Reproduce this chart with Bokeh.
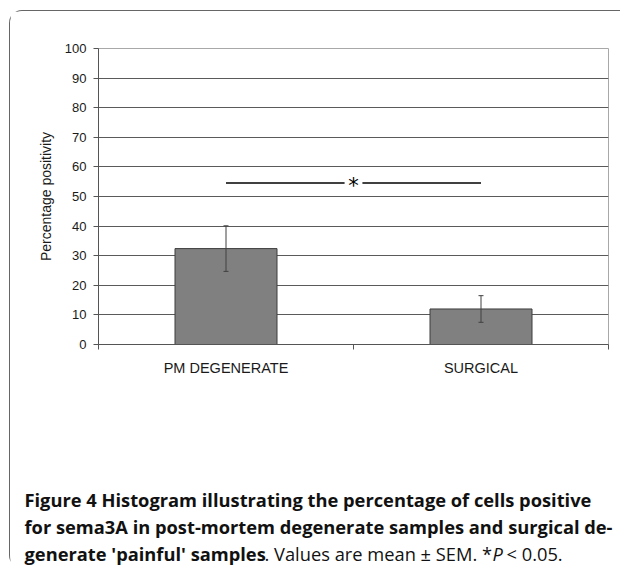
from bokeh.plotting import figure
from bokeh.layouts import column
from bokeh.models import Range1d, FixedTicker, Whisker, TeeHead, ColumnDataSource
from bokeh.core.properties import value
from bokeh.embed import file_html
from bokeh.resources import INLINE

# ---- data ----
categories = ["PM DEGENERATE", "SURGICAL"]
means = [32.4, 12.0]
sems = [7.7, 4.5]
y_ticks = [0, 10, 20, 30, 40, 50, 60, 70, 80, 90, 100]
y_label = "Percentage positivity"
sig_level = 54.6
sig_text = "*"
caption_l1 = "Figure 4 Histogram illustrating the percentage of cells positive"
caption_l2 = "for sema3A in post-mortem degenerate samples and surgical de-"
caption_l3_bold = "generate 'painful' samples"
caption_l3_reg = ". Values are mean \u00b1 SEM. *"
caption_l3_ital = "P"
caption_l3_end = "< 0.05."

AX = "Liberation Sans"
CAP = value("Open Sans")
CAP_SIZE = "18.3px"
FRAME = "#666666"

OX, OY = 10, 11          # page offset of the layout content (margin + border)
W = 610                  # content width
CHART_BOTTOM = 390       # page y where the caption strip begins
PAGE_BOTTOM = 568

# ---- chart ----
xs = [i + 0.5 for i in range(len(categories))]
lower = [m - s for m, s in zip(means, sems)]
upper = [m + s for m, s in zip(means, sems)]
src = ColumnDataSource(dict(x=xs, top=means, lower=lower, upper=upper))

chart_h = CHART_BOTTOM - OY
p = figure(width=W, height=chart_h, output_backend="svg", toolbar_location=None,
           x_range=Range1d(0, len(categories)), y_range=Range1d(0, 100),
           min_border_left=98 - OX, min_border_right=W - (98 - OX) - 510,
           min_border_top=48 - OY, min_border_bottom=chart_h - (48 - OY) - 296, tools="")
p.background_fill_color = "white"
p.border_fill_color = "white"
p.outline_line_color = "#a8a8a8"
p.outline_line_width = 1

p.xgrid.visible = False
p.ygrid.ticker = FixedTicker(ticks=y_ticks[1:-1])
p.ygrid.grid_line_color = "#5a5a5a"
p.ygrid.grid_line_width = 1

ya = p.yaxis[0]
ya.ticker = FixedTicker(ticks=y_ticks)
ya.minor_tick_line_color = None
ya.major_tick_out = 5
ya.major_tick_in = 0
ya.major_tick_line_color = "#555555"
ya.axis_line_color = "#555555"
ya.major_label_text_font = AX
ya.major_label_text_font_size = "13px"
ya.major_label_text_color = "#1a1a1a"
ya.major_label_standoff = 7
ya.axis_label = y_label
ya.axis_label_text_font = AX
ya.axis_label_text_font_size = "14px"
ya.axis_label_text_font_style = "normal"
ya.axis_label_text_color = "#1a1a1a"
ya.axis_label_standoff = 8

xa = p.xaxis[0]
xa.ticker = FixedTicker(ticks=xs, minor_ticks=list(range(len(categories) + 1)))
xa.major_label_overrides = {x: c for x, c in zip(xs, categories)}
xa.major_tick_line_color = None
xa.major_tick_out = 5
xa.major_tick_in = 0
xa.minor_tick_out = 5
xa.minor_tick_in = 0
xa.minor_tick_line_color = "#555555"
xa.axis_line_color = "#555555"
xa.major_label_text_font = AX
xa.major_label_text_font_size = "14.5px"
xa.major_label_text_color = "#1a1a1a"
xa.major_label_standoff = 10

p.vbar(x="x", top="top", width=0.4, bottom=0, source=src,
       fill_color="#808080", line_color="#3c3c3c", line_width=1)

p.add_layout(Whisker(base="x", upper="upper", lower="lower", source=src, level="overlay",
                     line_color="#404040", line_width=1,
                     upper_head=TeeHead(size=5, line_color="#404040", line_width=1),
                     lower_head=TeeHead(size=5, line_color="#404040", line_width=1)))

mid = (xs[0] + xs[1]) / 2
gap = 0.035
p.segment(x0=[xs[0], mid + gap], y0=[sig_level, sig_level],
          x1=[mid - gap, xs[1]], y1=[sig_level, sig_level],
          line_color="black", line_width=1.5)
p.text(x=[mid], y=[sig_level], text=[sig_text], text_align="center",
       text_baseline="middle", text_font=value("DejaVu Sans"),
       text_font_size="21px", text_color="black", y_offset=3)

# ---- caption strip (page coordinates) ----
cap = figure(width=W, height=PAGE_BOTTOM - CHART_BOTTOM, output_backend="svg",
             toolbar_location=None, tools="", title=None,
             x_range=Range1d(OX, OX + W), y_range=Range1d(PAGE_BOTTOM, CHART_BOTTOM),
             x_axis_location=None, y_axis_location=None, min_border=0,
             min_border_left=0, min_border_right=0, min_border_top=0,
             min_border_bottom=0)
cap.grid.visible = False
cap.outline_line_color = None
cap.background_fill_color = "white"
cap.border_fill_color = "white"
for f in (p, cap):
    if "frame_align" in f.properties():
        f.frame_align = False


def cap_text(text, x, y, style):
    cap.text(x=[x], y=[y], text=[text], text_font=CAP, text_font_size=CAP_SIZE,
             text_font_style=style, text_color="#111111",
             text_baseline="alphabetic", text_align="left")


cap_text(caption_l1, 24, 499, "bold")
cap_text(caption_l2, 24, 526, "bold")
cap_text(caption_l3_bold, 24, 553, "bold")
cap_text(caption_l3_reg, 264, 553, "normal")
cap_text(caption_l3_ital, 492, 553, "italic")
cap_text(caption_l3_end, 506, 553, "normal")

layout = column(p, cap, styles={
    "margin-left": "9px", "margin-top": "10px",
    "border-top": "1px solid " + FRAME, "border-left": "1px solid " + FRAME,
    "border-top-left-radius": "13px", "border-bottom-left-radius": "13px",
})
open("out.html", "w").write(file_html(layout, INLINE))
